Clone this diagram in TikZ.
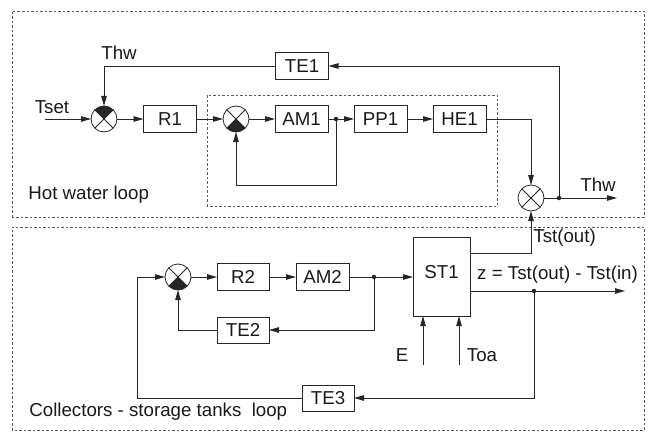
\documentclass[tikz,border=0pt]{standalone}
\usepackage{fontspec}
\setmainfont{Liberation Sans}
\usetikzlibrary{arrows.meta}
\begin{document}
\begin{tikzpicture}[x=1pt,y=1pt,
 font=\fontsize{18.7}{21}\selectfont,
 line width=0.8pt, draw=black!85, text=black!90,
 blk/.style={draw, minimum width=53pt, minimum height=27pt, inner sep=0pt, outer sep=0pt},
 sumc/.style={draw, circle, minimum size=26pt, inner sep=0pt, outer sep=0pt},
 arr/.style={-{Triangle[length=10pt,width=5.5pt]}},
 dashbox/.style={draw=black!65, dash pattern=on 2.5pt off 2pt, line width=0.7pt},
 jdot/.style={circle, fill=black!85, inner sep=0pt, minimum size=4.5pt},
 lbl/.style={inner sep=0pt}]
\useasboundingbox (0,0) rectangle (653,432);
% loop frames
\draw[dashbox] (12,215) rectangle (644,421);
\draw[dashbox] (12,2) rectangle (644,205);
\draw[dashbox] (207,226) rectangle (497,337);
% hot water loop
\node[blk] (TE1) at (302,366) {TE1};
\node[sumc] (S1) at (104,313) {};
\node[blk] (R1) at (170,313) {R1};
\node[sumc] (S2) at (236,313) {};
\node[blk] (AM1) at (301.5,313) {AM1};
\node[jdot] (D1) at (336,313) {};
\node[blk] (PP1) at (380.5,313) {PP1};
\node[blk] (HE1) at (459.5,313) {HE1};
\node[sumc] (S3) at (531,234) {};
\node[jdot] (D2) at (559,234) {};
\coordinate (ThwEnd) at (617,234);
\coordinate (TsetStart) at (45,313);
% collectors loop
\node[sumc] (S4) at (178,155) {};
\node[blk, minimum width=52pt] (R2) at (243,155) {R2};
\node[blk] (AM2) at (322.5,155) {AM2};
\node[jdot] (D3) at (374,155) {};
\node[draw, minimum width=57pt, minimum height=79pt, inner sep=0pt, outer sep=0pt] (ST1) at (441.5,155.5) {};
\node[lbl] (ST1l) at (441.5,160) {ST1};
\node[blk, minimum width=52pt, minimum height=26pt] (TE2) at (243,102) {TE2};
\node[blk, minimum width=52pt, minimum height=26pt] (TE3) at (328,34) {TE3};
\node[jdot] (D4) at (534,141) {};
\coordinate (zEnd) at (625,141);
\coordinate (Es) at (423,67);
\coordinate (Ts) at (459,67);
% summing junction marks
\foreach \s in {S1,S2,S3,S4} \draw (\s.45) -- (\s.225) (\s.135) -- (\s.315);
\fill[black!85] (S1.center) -- (S1.45) arc[start angle=45,end angle=135,radius=13pt] -- cycle;
\fill[black!85] (S2.center) -- (S2.225) arc[start angle=225,end angle=315,radius=13pt] -- cycle;
\fill[black!85] (S4.center) -- (S4.225) arc[start angle=225,end angle=315,radius=13pt] -- cycle;
% connectors top
\draw[arr] (TsetStart) -- (S1.west);
\draw[arr] (S1.east) -- (R1.west);
\draw[arr] (R1.east) -- (S2.west);
\draw[arr] (S2.east) -- (AM1.west);
\draw (AM1.east) -- (D1.center);
\draw[arr] (D1.center) -- (PP1.west);
\draw[arr] (PP1.east) -- (HE1.west);
\draw[arr] (HE1.east) -| (S3.north);
\draw[arr] (S3.east) -- (ThwEnd);
\draw[arr] (D2.center) |- (TE1.east);
\draw[arr] (TE1.west) -| (S1.north);
\draw[arr] (D1.center) -- ++(0,-66) -| (S2.south);
% connectors bottom
\draw[arr] (S4.east) -- (R2.west);
\draw[arr] (R2.east) -- (AM2.west);
\draw (AM2.east) -- (D3.center);
\draw[arr] (D3.center) -- (ST1.west |- D3);
\draw[arr] (D3.center) |- (TE2.east);
\draw[arr] (TE2.west) -| (S4.south);
\draw[arr] ([yshift=23.5pt]ST1.east) -| (S3.south);
\draw[arr] ([yshift=-14.5pt]ST1.east) -- (zEnd);
\draw[arr] (D4.center) |- (TE3.east);
\draw[arr] (TE3.west) -- ++(-165,0) |- (S4.west);
\draw[arr] (Es) -- (Es |- ST1.south);
\draw[arr] (Ts) -- (Ts |- ST1.south);
% labels
\node[lbl] (lTset) at (52,325) {Tset};
\node[lbl] (lThw1) at (119,379) {Thw};
\node[lbl] (lThw2) at (598,247) {Thw};
\node[lbl, anchor=west] (lTst) at (533,194) {Tst(out)};
\node[lbl] (lz) at (557.5,157) {z = Tst(out) - Tst(in)};
\node[lbl, anchor=west] (lhw) at (28,237) {Hot water loop};
\node[lbl, anchor=west] (lcol) at (29,20) {Collectors - storage tanks\ \ loop};
\node[lbl] (lE) at (402,77) {E};
\node[lbl] (lToa) at (482,77) {Toa};
\end{tikzpicture}
\end{document}
